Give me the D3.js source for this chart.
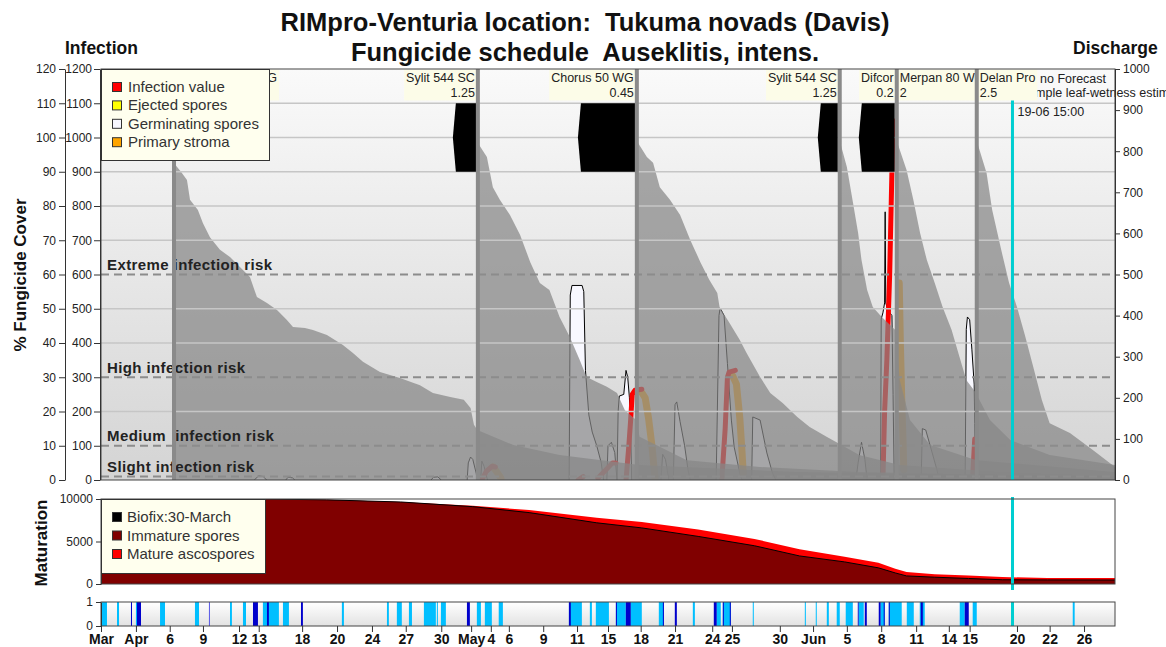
<!DOCTYPE html>
<html>
<head>
<meta charset="utf-8">
<script src="https://cdn.jsdelivr.net/npm/d3@7"></script>
<style>
  body { margin: 0; background: #fff; }
  text { font-family: Arial, "Liberation Sans", sans-serif; }
</style>
</head>
<body>
<svg id="chart" width="1166" height="647"></svg>
<script>
// all x values are days counted from 31 March

// x axis labels (as printed on the chart) and where they sit
const tickDays = [0, 3.1, 6.1, 9.05, 12.25, 14.0, 17.85, 20.95, 24.05, 27.05, 30.2, 32.85, 34.6, 36.2, 39.25, 42.25, 45.0, 47.9, 50.95, 54.25, 56.0, 60.25, 63.2, 66.2, 69.25, 72.35, 75.25, 77.1, 81.3, 84.2, 87.25];
const tickLabels = ["Mar", "Apr", "6", "9", "12", "13", "18", "20", "24", "27", "30", "May", "4", "6", "9", "11", "15", "18", "21", "24", "25", "30", "Jun", "5", "8", "11", "14", "15", "20", "22", "26"];

// infection risk thresholds (infection scale)
const riskLevels = [600, 300, 100, 10];
const riskNames = ["Extreme infection risk", "High infection risk", "Medium  infection risk", "Slight infection risk"];

// fungicide applications
const sprayDays = [6.48, 33.45, 47.56, 65.57, 70.63, 70.63, 77.73];
const sprayProducts = ["Dithane M-45 WG", "Sylit 544 SC", "Chorus 50 WG", "Sylit 544 SC", "Difcor", "Merpan 80 WG", "Delan Pro"];
const sprayDoses = ["2", "1.25", "0.45", "1.25", "0.2", "2", "2.5"];
const sprayAnchor = ["start", "end", "end", "end", "end", "start", "start"];

// black blocks at the top of the fungicide area [from, to]
const sprayWindows = [[31.23, 33.36], [42.33, 47.47], [63.62, 65.4], [67.26, 70.45]];

// % fungicide cover after each spray [day, %]
const cover1 = [[6.48,92.5],[7.1,90],[7.63,87.6],[7.9,81.8],[8.6,78.8],[9.05,75],[9.67,70.9],[10.56,67.2],[11.45,65.1],[12.33,62.2],[13.22,59.3],[13.84,53.4],[14.73,51.7],[15.62,49.6],[16.5,46.7],[17.04,44.7],[18.1,44.4],[18.81,43.8],[20.05,42.3],[21.47,39.4],[22.36,37.1],[23.25,34.5],[24.76,31.5],[26.53,29.8],[28.31,27.7],[29.46,25.4],[31.0,24.2],[32.2,23.4],[32.8,21.0],[33.1,16.1],[33.4,14.6],[36.6,10.2],[40.7,7.3],[47.8,4.4],[62,2.3],[90,0.9]];
const cover2 = [[33.45,98.4],[34.25,94.3],[34.78,85.5],[35.4,81.8],[36.3,77.4],[37.2,71.5],[38.1,63.6],[38.95,57.5],[39.8,55.5],[40.7,47.6],[41.6,41.8],[42.5,35],[43.1,30.1],[44.0,28.6],[44.9,27.2],[45.8,25.4],[46.5,20.4],[47.5,17.5],[47.8,12.6],[52,5.8],[58.5,3.8],[67.3,2.3],[90,0.9]];
const cover3 = [[47.56,99],[48.45,94.3],[49.0,92.6],[49.6,85.5],[50.5,81.8],[51.4,77.4],[52.3,70.1],[53.2,63.6],[54.0,58.4],[54.7,54.6],[54.9,50.5],[55.8,45.8],[56.7,40.9],[57.3,37.1],[58.5,30.1],[59.4,25.4],[60.5,22.5],[61.8,18.4],[62.9,15.5],[64.4,12.6],[65.4,10.8],[67.3,7.3],[70.9,4.4],[79.8,2.3],[90,1.2]];
const cover4 = [[65.57,99],[66.2,91.4],[66.7,81.8],[67.2,72.1],[67.5,64.2],[68.0,55.5],[68.5,50.5],[69.3,47.6],[70.5,43.8],[70.9,29.2],[71.8,17.5],[73.6,10.2],[77.7,5.8],[90,2.3]];
const cover5 = [[70.63,99],[71.5,90.5],[72.1,81.8],[72.7,72.1],[73.3,64.2],[74.0,57.5],[74.7,50.5],[75.5,43.8],[76.2,35.9],[76.8,29.2],[77.6,25.7],[78.9,17.5],[80.7,11.7],[84.2,7.3],[90,4.4]];
const cover6 = [[77.73,99],[78.6,89.6],[79.1,78.8],[79.9,67.2],[80.6,57.5],[81.3,50.5],[82.0,42.3],[82.7,33.6],[83.5,23.4],[84.2,16.6],[86.0,13.7],[88.0,8.8],[90,3.8]];

// germinating spores [day, infection]
const germPeaks = [
  [[13.6,0],[14.0,12],[14.4,10],[14.7,0]],
  [[16.4,0],[16.6,8],[17.0,6],[17.2,0]],
  [[29.3,0],[29.5,8],[29.9,9],[30.2,0]],
  [[32.5,0],[32.6,50],[32.8,67],[33.0,60],[33.3,20],[33.4,0]],
  [[33.7,0],[33.8,55],[34.0,40],[34.3,0]],
  [[41.55,0],[41.65,540],[41.8,568],[42.7,568],[42.85,550],[43.0,320],[43.3,190],[43.6,140],[44.0,100],[44.4,50],[44.6,0]],
  [[44.9,0],[45.0,100],[45.3,110],[45.6,80],[45.8,0]],
  [[45.8,0],[45.9,200],[46.0,245],[46.4,250],[46.6,320],[46.75,300],[46.9,240],[47.0,150],[47.1,0]],
  [[49.7,0],[49.85,75],[50.1,60],[50.4,0]],
  [[50.8,0],[50.95,220],[51.1,228],[51.4,170],[51.8,100],[52.1,30],[52.3,0]],
  [[54.6,0],[54.85,480],[54.95,502],[55.3,480],[55.6,340],[55.95,175],[56.2,96],[56.7,20],[56.9,0]],
  [[57.75,0],[57.85,184],[58.5,175],[59.1,79],[59.6,20],[59.9,0]],
  [[67.0,0],[67.2,50],[67.5,110],[67.8,60],[68.0,0]],
  [[69.2,0],[69.25,470],[69.4,488],[69.55,517],[69.6,783],[69.65,517],[69.85,496],[70.2,480],[70.3,250],[70.4,0]],
  [[72.8,0],[72.9,150],[73.2,146],[73.7,88],[74.2,29],[74.4,0]],
  [[76.7,0],[76.8,440],[76.9,476],[77.1,468],[77.3,380],[77.5,280],[77.55,165],[77.6,0]]
];

// infection value [day, infection]
const infectionLines = [
  [[33.8,0],[34.2,25],[34.7,40],[35.0,38]],
  [[42.35,0],[42.8,10]],
  [[44.1,5],[45.4,50],[45.7,50]],
  [[46.6,0],[46.85,100],[47.0,170],[47.15,250],[47.4,262],[48.0,265]],
  [[55.1,0],[55.4,150],[55.6,300],[55.75,315],[56.3,320]],
  [[69.4,0],[69.55,200],[69.75,350],[70.0,600],[70.2,900],[70.3,1050]],
  [[77.35,0],[77.45,60],[77.55,120]]
];

// primary stroma [day, infection]
const stromaLines = [
  [[34.8,38],[35.1,25],[35.5,5]],
  [[48.0,255],[48.3,240],[48.6,180],[48.9,100],[49.1,30],[49.2,0]],
  [[56.05,305],[56.4,280],[56.7,180],[56.9,80],[57.0,20]],
  [[70.85,575],[70.95,400],[71.1,200],[71.2,100],[71.25,30]]
];

// forecast start (19-06 15:00)
const forecastDay = 80.9;

// maturation of ascospores
const matDays     = [0, 14.3, 20, 26.6, 33, 38, 44, 48, 53, 58, 62, 66, 69, 70.5, 71.5, 74, 77, 80, 84, 90];
const matTotal    = [10000, 10000, 9900, 9650, 9200, 8700, 7800, 7300, 6400, 5300, 4100, 3200, 2500, 1800, 1400, 1150, 1000, 820, 700, 700];
const matImmature = [10000, 10000, 9900, 9650, 9100, 8400, 7200, 6600, 5600, 4500, 3300, 2600, 1900, 1300, 950, 800, 650, 500, 480, 470];

// leaf wetness [from, to, level] 1 = wet, 2 = rain, 3 = dew
const wetBars = [
  [0.09,0.53,1],[1.42,1.6,1],[2.66,2.75,2],[3.1,3.2,1],[3.19,3.55,2],[5.24,5.68,1],[8.34,8.7,1],[9.58,9.67,3],
  [11.45,11.62,1],[12.6,12.87,1],[13.49,13.93,2],[14.37,15.79,1],[14.73,14.9,2],[16.15,16.68,1],[17.75,17.92,2],
  [21.38,21.56,1],[25.38,25.55,1],[26.26,26.7,1],[27.33,27.6,1],[28.66,29.72,1],[29.81,29.9,1],[30.17,30.61,1],
  [32.48,32.74,2],[33.36,33.72,1],[34.07,34.69,1],[35.3,35.67,1],[41.53,42.68,1],[41.53,41.7,2],[43.39,43.57,1],
  [43.92,45.08,1],[45.7,46.58,1],[45.7,45.79,2],[46.58,47.03,2],[47.03,48.0,1],[49.51,49.96,1],[49.87,49.96,2],
  [50.93,51.11,2],[52.53,52.71,1],[54.39,54.66,2],[54.66,55.01,1],[55.19,55.9,1],[55.19,55.28,2],[55.81,55.9,2],
  [57.85,57.94,1],[62.47,62.56,1],[63.44,63.53,1],[64.42,64.6,1],[65.3,65.57,1],[66.1,66.73,1],[67.17,67.26,2],
  [67.26,67.7,1],[67.79,67.97,2],[69.03,69.21,2],[69.21,69.56,1],[69.47,69.56,2],[69.92,71.07,1],[69.92,70.01,2],
  [71.52,72.14,1],[72.67,73.11,1],[72.76,72.94,2],[76.22,76.66,1],[76.66,77.02,2],[77.37,77.73,1],[86.25,86.42,1]
];

const infectionLegend = ["Infection value", "Ejected spores", "Germinating spores", "Primary stroma"];
const infectionColours = ["#ff0000", "#ffff00", "#f8f8ff", "#ffa500"];
const maturationLegend = ["Biofix:30-March", "Immature spores", "Mature ascospores"];
const maturationColours = ["#000000", "#800000", "#ff0000"];
const wetColours = {1: "#00bfff", 2: "#0000cc", 3: "#5a5ae6"};

const svg = d3.select("#chart");

const x = d3.scaleLinear().domain([0, 90]).range([101, 1115]);
const yInf = d3.scaleLinear().domain([0, 1200]).range([480, 69]);
const yPct = d3.scaleLinear().domain([0, 120]).range([480, 69]);
const yDis = d3.scaleLinear().domain([0, 1000]).range([480, 69]);
const yMat = d3.scaleLinear().domain([0, 10000]).range([584, 499]);
const yWet = d3.scaleLinear().domain([0, 1]).range([626, 602]);

const defs = svg.append("defs");
const bg = defs.append("linearGradient").attr("id", "bgGrad")
    .attr("x1", 0).attr("y1", 0).attr("x2", 0).attr("y2", 1);
bg.append("stop").attr("offset", "0%").attr("stop-color", "#fafafa");
bg.append("stop").attr("offset", "100%").attr("stop-color", "#d4d4d4");
const wg = defs.append("linearGradient").attr("id", "wetGrad")
    .attr("x1", 0).attr("y1", 0).attr("x2", 0).attr("y2", 1);
wg.append("stop").attr("offset", "0%").attr("stop-color", "#ffffff");
wg.append("stop").attr("offset", "100%").attr("stop-color", "#e2e2e2");
defs.append("clipPath").attr("id", "plotClip").append("rect")
    .attr("x", 101).attr("y", 69).attr("width", 1014).attr("height", 411);
defs.append("clipPath").attr("id", "matClip").append("rect")
    .attr("x", 101).attr("y", 499).attr("width", 1014).attr("height", 85);
defs.append("clipPath").attr("id", "labelClip").append("rect")
    .attr("x", 270).attr("y", 60).attr("width", 896).attr("height", 45);

// ---------- main panel ----------
svg.append("rect").attr("x", 101).attr("y", 69).attr("width", 1014).attr("height", 411)
    .attr("fill", "url(#bgGrad)");

const plot = svg.append("g").attr("clip-path", "url(#plotClip)");

const infArea = d3.area().x(d => x(d[0])).y0(yInf(0)).y1(d => yInf(d[1]));
const infLine = d3.line().x(d => x(d[0])).y(d => yInf(d[1]));
const coverArea = d3.area().x(d => x(d[0])).y0(yPct(0)).y1(d => yPct(d[1]));

plot.selectAll(".germFill").data(germPeaks).enter().append("path")
    .attr("d", infArea).attr("fill", "#f8f8ff");
plot.selectAll(".germLine").data(germPeaks).enter().append("path")
    .attr("d", infLine).attr("fill", "none").attr("stroke", "#000").attr("stroke-width", 1);

plot.selectAll(".stroma").data(stromaLines).enter().append("path")
    .attr("d", infLine).attr("fill", "none").attr("stroke", "#f5a31a")
    .attr("stroke-width", 7).attr("stroke-linecap", "round").attr("stroke-linejoin", "round");
plot.selectAll(".infection").data(infectionLines).enter().append("path")
    .attr("d", infLine).attr("fill", "none").attr("stroke", "#ff0000")
    .attr("stroke-width", 5).attr("stroke-linecap", "round").attr("stroke-linejoin", "round");

// fungicide cover, semi transparent so old cover shows darker underneath
plot.selectAll(".cover").data([cover1, cover2, cover3, cover4, cover5, cover6]).enter().append("path")
    .attr("d", coverArea).attr("fill", "#878787").attr("fill-opacity", 0.72);

// grid
const gridVals = d3.range(100, 1200, 100).filter(v => !riskLevels.includes(v));
plot.selectAll(".grid").data(gridVals).enter().append("line")
    .attr("x1", 101).attr("x2", 1115).attr("y1", d => yInf(d)).attr("y2", d => yInf(d))
    .attr("stroke", "#c6c6c6").attr("stroke-width", 1.5);
plot.selectAll(".risk").data(riskLevels).enter().append("line")
    .attr("x1", 101).attr("x2", 1115).attr("y1", d => yInf(d)).attr("y2", d => yInf(d))
    .attr("stroke", "#8c8c8c").attr("stroke-width", 2).attr("stroke-dasharray", "8,5");

plot.selectAll(".riskText").data(riskLevels).enter().append("text")
    .attr("x", 107).attr("y", d => yInf(d) - 4.5)
    .style("white-space", "pre")
    .attr("font-size", 15).attr("font-weight", "bold").attr("letter-spacing", 0.4).attr("fill", "#222")
    .text((d, i) => riskNames[i]);

// black blocks
plot.selectAll(".window").data(sprayWindows).enter().append("path")
    .attr("d", d => {
        const a = x(d[0]), b = x(d[1]);
        return "M" + (a + 3) + "," + yPct(110) + "L" + a + "," + yPct(100) + "L" + (a + 3) + "," + yPct(90) +
               "L" + b + "," + yPct(90) + "L" + b + "," + yPct(110) + "Z";
    })
    .attr("fill", "#000");

// forecast marker and text
plot.append("line").attr("x1", x(forecastDay)).attr("x2", x(forecastDay))
    .attr("y1", 100).attr("y2", 480).attr("stroke", "#00ced1").attr("stroke-width", 3);
svg.append("text").attr("x", x(forecastDay) + 5).attr("y", 116)
    .attr("font-size", 12.5).attr("fill", "#222").text("19-06 15:00");
svg.append("text").attr("x", 1040).attr("y", 83)
    .attr("font-size", 12.5).attr("fill", "#222").text("no Forecast");
svg.append("text").attr("x", 1024).attr("y", 97)
    .attr("font-size", 12.5).attr("fill", "#222").text("Simple leaf-wetness estimation");

// product labels
const labels = svg.append("g").attr("clip-path", "url(#labelClip)");
sprayDays.forEach((day, i) => {
    const g = labels.append("g");
    const anchor = sprayAnchor[i];
    const tx = anchor === "end" ? x(day) - 3 : x(day) + 3;
    const t1 = g.append("text").attr("x", tx).attr("y", 82).attr("text-anchor", anchor)
        .attr("font-size", 12.5).attr("fill", "#222").text(sprayProducts[i]);
    const t2 = g.append("text").attr("x", tx).attr("y", 97).attr("text-anchor", anchor)
        .attr("font-size", 12.5).attr("fill", "#222").text(sprayDoses[i]);
    const w = Math.max(t1.node().getComputedTextLength(), t2.node().getComputedTextLength()) + 4;
    g.insert("rect", "text")
        .attr("x", anchor === "end" ? x(day) - 1 - w : x(day) + 1)
        .attr("y", 69.5).attr("width", w).attr("height", 31)
        .attr("fill", "#fcfce8");
});

// application lines
svg.selectAll(".appLine").data(Array.from(new Set(sprayDays))).enter().append("line")
    .attr("x1", d => x(d)).attr("x2", d => x(d)).attr("y1", 69).attr("y2", 480)
    .attr("stroke", "#8a8a8a").attr("stroke-width", 4);

// frame
svg.append("rect").attr("x", 101).attr("y", 69).attr("width", 1014).attr("height", 411)
    .attr("fill", "none").attr("stroke", "#444").attr("stroke-width", 1);

// axes
function styleAxis(g, size) {
    g.selectAll("path,line").attr("stroke", "#333");
    g.selectAll("text").attr("font-size", size || 12).attr("fill", "#222")
        .attr("font-family", "Arial, 'Liberation Sans', sans-serif");
}
svg.append("g").attr("transform", "translate(65,0)")
    .call(d3.axisLeft(yPct).tickValues(d3.range(0, 121, 10)).tickFormat(d3.format("d"))
        .tickSize(6).tickPadding(3).tickSizeOuter(0))
    .call(g => styleAxis(g));
svg.append("g").attr("transform", "translate(100,0)")
    .call(d3.axisLeft(yInf).tickValues(d3.range(0, 1201, 100)).tickFormat(d3.format("d"))
        .tickSize(6).tickPadding(2).tickSizeOuter(0))
    .call(g => styleAxis(g));
svg.append("g").attr("transform", "translate(1115,0)")
    .call(d3.axisRight(yDis).tickValues(d3.range(0, 1001, 100)).tickFormat(d3.format("d"))
        .tickSize(5).tickPadding(3).tickSizeOuter(0))
    .call(g => styleAxis(g));

// legend
const leg = svg.append("g");
leg.append("rect").attr("x", 101.5).attr("y", 69.5).attr("width", 168).attr("height", 91)
    .attr("fill", "#ffffee").attr("stroke", "#333");
infectionLegend.forEach((name, i) => {
    leg.append("rect").attr("x", 112.5).attr("y", 82.5 + i * 18.4).attr("width", 9).attr("height", 9)
        .attr("fill", infectionColours[i]).attr("stroke", "#333");
    leg.append("text").attr("x", 128).attr("y", 92 + i * 18.4).attr("font-size", 15)
        .attr("fill", "#333").text(name);
});

// ---------- maturation panel ----------
svg.append("rect").attr("x", 101).attr("y", 499).attr("width", 1014).attr("height", 85).attr("fill", "#fff");
const mat = svg.append("g").attr("clip-path", "url(#matClip)");
const matData = matDays.map((d, i) => ({day: d, total: matTotal[i], imm: matImmature[i]}));
mat.append("path").datum(matData)
    .attr("d", d3.area().x(d => x(d.day)).y0(yMat(0)).y1(d => yMat(d.total)))
    .attr("fill", "#ff0000");
mat.append("path").datum(matData)
    .attr("d", d3.area().x(d => x(d.day)).y0(yMat(0)).y1(d => yMat(d.imm)))
    .attr("fill", "#800000");
mat.append("path").datum(matData)
    .attr("d", d3.line().x(d => x(d.day)).y(d => yMat(d.imm)))
    .attr("fill", "none").attr("stroke", "#000").attr("stroke-width", 1);
svg.append("line").attr("x1", x(forecastDay)).attr("x2", x(forecastDay))
    .attr("y1", 497).attr("y2", 590).attr("stroke", "#00ced1").attr("stroke-width", 3);
svg.append("rect").attr("x", 101).attr("y", 499).attr("width", 1014).attr("height", 85)
    .attr("fill", "none").attr("stroke", "#444");
svg.append("g").attr("transform", "translate(101,0)")
    .call(d3.axisLeft(yMat).tickValues([0, 5000, 10000]).tickFormat(d3.format("d"))
        .tickSize(5).tickPadding(3).tickSizeOuter(0))
    .call(g => styleAxis(g));

const leg2 = svg.append("g");
leg2.append("rect").attr("x", 101.5).attr("y", 499.5).attr("width", 164).attr("height", 74)
    .attr("fill", "#ffffee").attr("stroke", "#333");
maturationLegend.forEach((name, i) => {
    leg2.append("rect").attr("x", 112.5).attr("y", 512.5 + i * 18.5).attr("width", 9).attr("height", 9)
        .attr("fill", maturationColours[i]).attr("stroke", "#333");
    leg2.append("text").attr("x", 127).attr("y", 522 + i * 18.5).attr("font-size", 15)
        .attr("fill", "#333").text(name);
});

// ---------- leaf wetness strip ----------
svg.append("rect").attr("x", 101).attr("y", 602).attr("width", 1014).attr("height", 24).attr("fill", "url(#wetGrad)");
svg.selectAll(".wet").data(wetBars).enter().append("rect")
    .attr("x", d => x(d[0])).attr("width", d => Math.max(1, x(d[1]) - x(d[0])))
    .attr("y", yWet(1)).attr("height", yWet(0) - yWet(1))
    .attr("fill", d => wetColours[d[2]]);
svg.append("line").attr("x1", x(forecastDay)).attr("x2", x(forecastDay))
    .attr("y1", 602).attr("y2", 626).attr("stroke", "#00ced1").attr("stroke-width", 3);
svg.append("rect").attr("x", 101).attr("y", 602).attr("width", 1014).attr("height", 24)
    .attr("fill", "none").attr("stroke", "#444");
svg.append("g").attr("transform", "translate(101,0)")
    .call(d3.axisLeft(yWet).tickValues([0, 1]).tickFormat(d3.format("d"))
        .tickSize(5).tickPadding(3).tickSizeOuter(0))
    .call(g => styleAxis(g));

const xAxis = svg.append("g").attr("transform", "translate(0,626)")
    .call(d3.axisBottom(x).tickValues(tickDays).tickFormat((d, i) => tickLabels[i]).tickSize(6).tickPadding(2).tickSizeOuter(0));
styleAxis(xAxis, 14);
xAxis.selectAll("text").attr("font-weight", "bold").attr("fill", "#111");
xAxis.select(".domain").remove();

// ---------- titles ----------
svg.append("text").attr("x", 585).attr("y", 31).attr("text-anchor", "middle")
    .style("white-space", "pre").attr("font-size", 25.5).attr("font-weight", "bold").attr("fill", "#111")
    .text("RIMpro-Venturia location:  Tukuma novads (Davis)");
svg.append("text").attr("x", 585).attr("y", 61).attr("text-anchor", "middle")
    .style("white-space", "pre").attr("font-size", 25.5).attr("font-weight", "bold").attr("fill", "#111")
    .text("Fungicide schedule  Auseklitis, intens.");
svg.append("text").attr("x", 65).attr("y", 54).attr("font-size", 17.5).attr("font-weight", "bold")
    .attr("fill", "#111").text("Infection");
svg.append("text").attr("x", 1073).attr("y", 54).attr("font-size", 17.5).attr("font-weight", "bold")
    .attr("fill", "#111").text("Discharge");
svg.append("text").attr("transform", "translate(26,275) rotate(-90)").attr("text-anchor", "middle")
    .attr("font-size", 17).attr("font-weight", "bold").attr("fill", "#111").text("% Fungicide Cover");
svg.append("text").attr("transform", "translate(47,543) rotate(-90)").attr("text-anchor", "middle")
    .attr("font-size", 17).attr("font-weight", "bold").attr("fill", "#111").text("Maturation");
</script>
</body>
</html>
